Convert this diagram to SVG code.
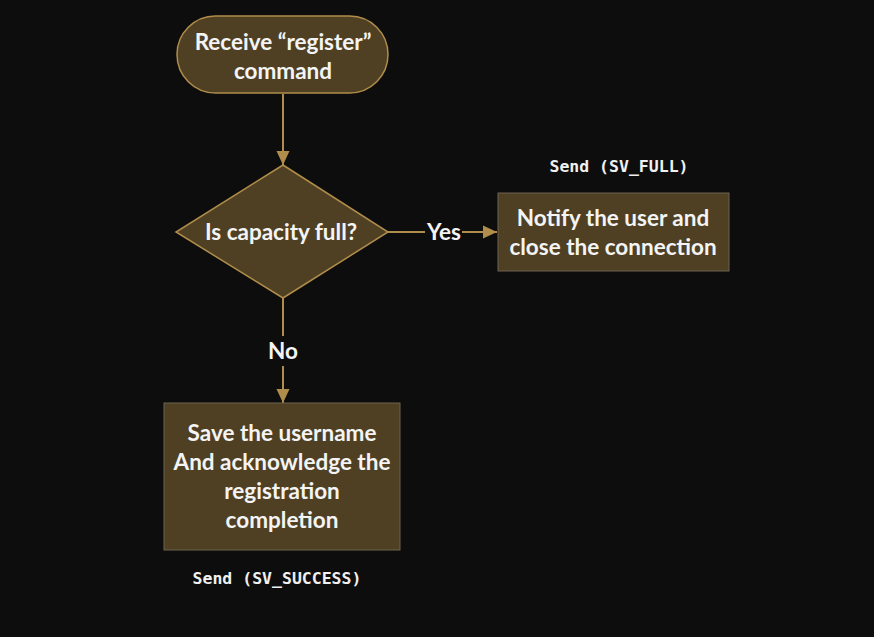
<svg xmlns="http://www.w3.org/2000/svg" width="874" height="637" viewBox="0 0 874 637">
<defs>
<style>
.shape{fill:#4f4024;stroke:#b08d4a;stroke-width:1.5}
.box{fill:#4f4024;stroke:#6e6250;stroke-width:1}
.t{font-family:Lato,"Open Sans","Liberation Sans",sans-serif;font-weight:bold;font-size:22.5px;fill:#f4f4f4;text-anchor:middle}
.m{font-family:"DejaVu Sans Mono","Liberation Mono",monospace;font-weight:bold;font-size:16.5px;fill:#f0f0f0;text-anchor:middle}
.c{stroke:#b08d4a;stroke-width:2;fill:none}
</style>
<marker id="ah2" markerWidth="14" markerHeight="14" refX="14" refY="7" orient="auto" markerUnits="userSpaceOnUse" viewBox="0 0 14 14">
<path d="M0,0.5 L14,7 L0,13.5 z" fill="#b08d4a"/>
</marker>
</defs>
<rect width="874" height="637" fill="#0d0d0d"/>
<g id="connectors">
<line class="c" x1="283" y1="94" x2="283" y2="165" marker-end="url(#ah2)"/>
<line class="c" x1="388" y1="232" x2="425" y2="232"/>
<line class="c" x1="462" y1="232" x2="497" y2="232" marker-end="url(#ah2)"/>
<line class="c" x1="283" y1="298" x2="283" y2="336"/>
<line class="c" x1="283" y1="366" x2="283" y2="403" marker-end="url(#ah2)"/>
<text class="t" x="444" y="240">Yes</text>
<text class="t" x="283" y="359">No</text>
</g>
<g id="start">
<rect class="shape" x="177" y="16" width="211" height="77" rx="38.5" ry="38.5"/>
<text class="t" x="283" y="50">Receive “register”</text>
<text class="t" x="283" y="79">command</text>
</g>
<g id="decision">
<polygon class="shape" points="283,165 388,232 283,298 176,232"/>
<text class="t" x="281" y="240">Is capacity full?</text>
</g>
<g id="notify">
<rect class="box" x="498" y="193" width="231" height="78"/>
<text class="t" x="613" y="226">Notify the user and</text>
<text class="t" x="613" y="255">close the connection</text>
<text class="m" x="619" y="172">Send (SV_FULL)</text>
</g>
<g id="save">
<rect class="box" x="164" y="403" width="236" height="147"/>
<text class="t" x="282" y="441">Save the username</text>
<text class="t" x="282" y="470">And acknowledge the</text>
<text class="t" x="282" y="499">registration</text>
<text class="t" x="282" y="528">completion</text>
<text class="m" x="277" y="584">Send (SV_SUCCESS)</text>
</g>
</svg>
